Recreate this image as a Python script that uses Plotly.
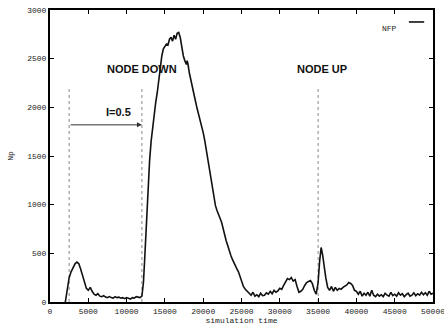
import plotly.graph_objects as go

# simulation time samples and Np values
sim_time = [2000, 2250, 2500, 2750, 3000, 3250, 3500, 3750, 4000, 4250, 4500, 4750, 5000, 5250, 5500, 5750,
            6000, 6250, 6500, 6750, 7000, 7250, 7500, 7750, 8000, 8250, 8500, 8750, 9000, 9250, 9500, 9750,
            10000, 10250, 10500, 10750, 11000, 11250, 11500, 11750, 12000, 12200, 12400, 12600, 12800, 13000,
            13200, 13400, 13600, 13800, 14000, 14200, 14400, 14600, 14800, 15000, 15200, 15400, 15600, 15800,
            16000, 16200, 16400, 16600, 16800, 17000, 17200, 17400, 17600, 17800, 17900, 18000, 18200, 18400,
            18600, 18800, 19000, 19200, 19400, 19600, 19800, 20000, 20200, 20400, 20600, 20800, 21000, 21200,
            21400, 21600, 21800, 22000, 22200, 22400, 22600, 22800, 23000, 23200, 23400, 23600, 23800, 24000,
            24200, 24400, 24600, 24800, 25000, 25250, 25500, 25750, 26000, 26250, 26500, 26750, 27000, 27250,
            27500, 27750, 28000, 28250, 28500, 28750, 29000, 29250, 29500, 29750, 30000, 30250, 30500, 30750,
            31000, 31250, 31500, 31750, 32000, 32250, 32500, 32750, 33000, 33250, 33500, 33750, 34000, 34250,
            34500, 34750, 35000, 35200, 35400, 35600, 35800, 36000, 36250, 36500, 36750, 37000, 37250, 37500,
            37750, 38000, 38250, 38500, 38750, 39000, 39250, 39500, 39750, 40000, 40250, 40500, 40750, 41000,
            41250, 41500, 41750, 42000, 42250, 42500, 42750, 43000, 43250, 43500, 43750, 44000, 44250, 44500,
            44750, 45000, 45250, 45500, 45750, 46000, 46250, 46500, 46750, 47000, 47250, 47500, 47750, 48000,
            48250, 48500, 48750, 49000, 49250, 49500, 49750, 50000]
np_values = [0, 150, 250, 310, 350, 390, 410, 395, 340, 270, 200, 140, 120, 150, 110, 80,
             70, 85, 60, 55, 65, 50, 45, 55, 45, 40, 55, 45, 50, 40, 45, 35,
             45, 40, 30, 45, 40, 55, 50, 45, 60, 200, 500, 850, 1150, 1450,
             1650, 1800, 1950, 2050, 2150, 2280, 2400, 2530, 2600, 2620, 2650, 2640, 2700, 2720,
             2680, 2740, 2700, 2760, 2770, 2720, 2600, 2530, 2480, 2440, 2480, 2450, 2350, 2270,
             2200, 2120, 2060, 1990, 1930, 1870, 1820, 1740, 1660, 1560, 1470, 1400, 1300, 1180,
             1060, 990, 940, 890, 860, 820, 750, 690, 630, 580, 520, 480, 440, 400,
             370, 340, 310, 260, 220, 160, 130, 110, 85, 70, 100, 60, 75, 55,
             90, 65, 70, 95, 80, 110, 85, 120, 100, 115, 140, 130, 170, 200,
             240, 230, 250, 215, 230, 160, 100, 110, 130, 170, 200, 210, 220, 190,
             120, 80, 200, 420, 560, 480, 360, 250, 150, 120, 160, 110, 150, 120,
             140, 130, 150, 160, 175, 200, 190, 170, 120, 110, 80, 110, 60, 90,
             70, 100, 60, 120, 70, 55, 80, 60, 75, 55, 90, 70, 60, 100,
             65, 80, 60, 95, 70, 85, 55, 75, 90, 60, 70, 95, 65, 85,
             70, 100, 75, 95, 70, 110, 80, 90]

event_times = [2500, 12000, 35000]
event_top = 2200
x_ticks = [0, 5000, 10000, 15000, 20000, 25000, 30000, 35000, 40000, 45000, 50000]
x_tick_labels = ["0", "5000", "10000", "15000", "20000", "25000", "30000", "35000", "40000", "45000", "50000"]
y_ticks = [0, 500, 1000, 1500, 2000, 2500, 3000]
y_tick_labels = ["0", "500", "1000", "1500", "2000", "2500", "3000"]

fig = go.Figure()

for t in event_times:
    fig.add_trace(go.Scatter(x=[t, t], y=[0, event_top], mode="lines",
                             line=dict(color="#888888", width=1, dash="dot"),
                             showlegend=False, hoverinfo="skip"))

fig.add_trace(go.Scatter(x=sim_time, y=np_values, mode="lines", name="NFP",
                         line=dict(color="#111111", width=1.6), showlegend=False))

tickfont = dict(family="Liberation Mono", size=8, color="#222222")
fig.update_layout(
    width=444, height=326,
    margin=dict(l=50, r=11, t=10, b=24, autoexpand=False),
    paper_bgcolor="white", plot_bgcolor="white",
    xaxis=dict(range=[0, 50000], tickvals=x_ticks, ticktext=x_tick_labels, ticks="inside", ticklen=4,
               tickcolor="black", showline=True, linecolor="black", linewidth=2,
               mirror="ticks", showgrid=False, zeroline=False, tickfont=tickfont,
               ticklabeloverflow="allow", automargin=False,
               title=dict(text="simulation time", font=tickfont, standoff=0)),
    yaxis=dict(range=[0, 3000], tickvals=y_ticks, ticktext=y_tick_labels, ticks="inside", ticklen=4,
               tickcolor="black", showline=True, linecolor="black", linewidth=2,
               mirror="ticks", showgrid=False, zeroline=False, tickfont=tickfont,
               ticklabeloverflow="allow", automargin=False,
               title=dict(text="Np", font=tickfont, standoff=12)),
    font=dict(family="Liberation Sans"),
)

bold = dict(family="Liberation Sans", size=11, color="#111111")
fig.add_annotation(x=12000, y=2390, text="<b>NODE DOWN</b>", showarrow=False, font=bold)
fig.add_annotation(x=35500, y=2390, text="<b>NODE UP</b>", showarrow=False, font=bold)
fig.add_annotation(x=8900, y=1950, text="<b>I=0.5</b>", showarrow=False, font=bold)
fig.add_annotation(x=12000, y=1820, ax=2500, ay=1820, xref="x", yref="y", axref="x", ayref="y",
                   text="", showarrow=True, arrowhead=2, arrowsize=1, arrowwidth=1, arrowcolor="#333333")

# legend in gnuplot style: label then line sample
fig.add_annotation(x=0.911, y=0.959, xref="paper", yref="paper", text="NFP", showarrow=False,
                   xanchor="right", font=dict(family="Liberation Mono", size=8, color="#222222"))
fig.add_shape(type="line", xref="paper", yref="paper", x0=0.937, x1=0.977, y0=0.959, y1=0.959,
              line=dict(color="#111111", width=1.6))

fig.write_html("out.html")
